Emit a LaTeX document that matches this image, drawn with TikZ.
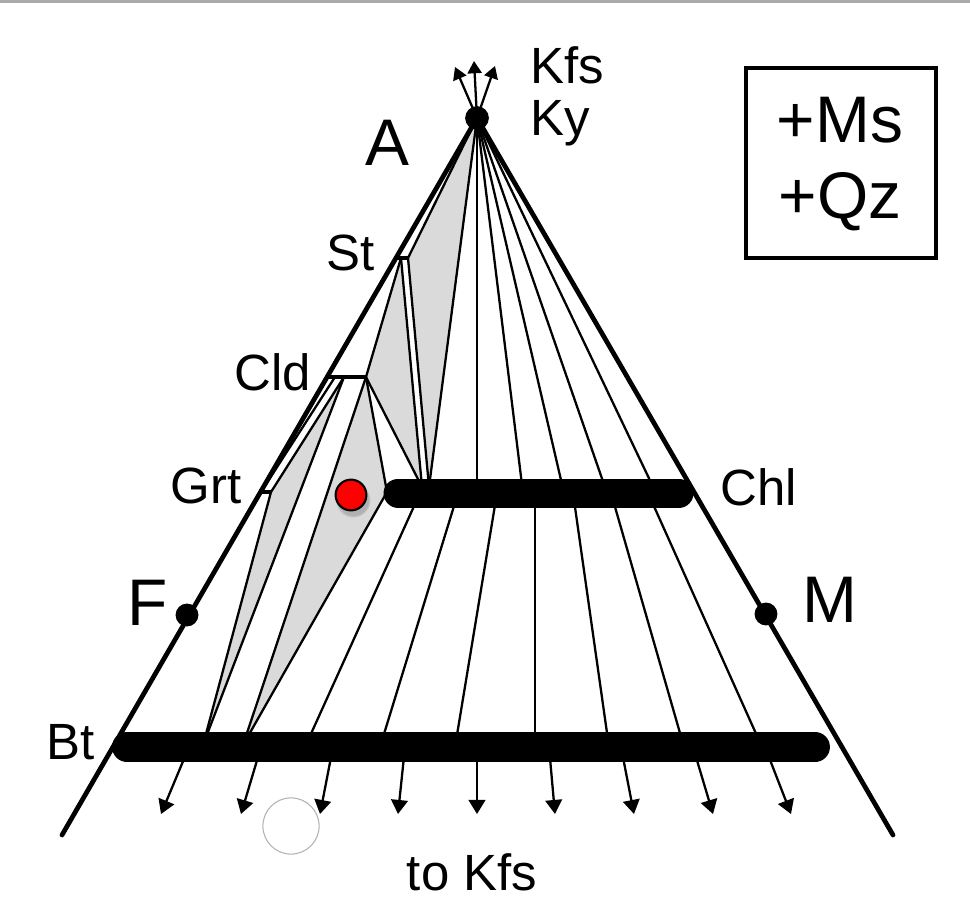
\documentclass[tikz,border=0pt]{standalone}
\usepackage{fontspec}
\setmainfont{Liberation Sans}
\usetikzlibrary{arrows.meta,shadows}
\definecolor{fieldgray}{RGB}{218,218,218}
\definecolor{ringgray}{RGB}{178,178,178}
\definecolor{stripgray}{RGB}{170,170,170}

\begin{document}
\begin{tikzpicture}[x=0.02cm, y=-0.02cm,
    edge/.style={line width=2.7pt, line cap=round},
    tie/.style={line width=1.3pt},
    field/.style={fill=fieldgray},
    ssbar/.style={line width=16.5pt, line cap=round},
    ticked/.style={line width=1.9pt},
    tip/.style={-{Triangle[length=8pt, width=9.5pt]}, line width=1.3pt},
    label/.style={inner sep=0pt, anchor=base, font=\fontsize{29}{34}\selectfont},
    biglabel/.style={inner sep=0pt, anchor=base, font=\fontsize{37.5}{44}\selectfont},
    dot/.style={circle, fill=black, inner sep=0pt, minimum size=13.5pt}]

    \useasboundingbox (0,0) rectangle (970,916);
    \fill[stripgray] (0,0) rectangle (970,2.7);

    % Triangle corners
    \coordinate (apex) at (477,118);
    \coordinate (lowleft) at (62,835);
    \coordinate (lowright) at (893,835);

    % Phase compositions
    \coordinate (st1) at (401,258);
    \coordinate (st2) at (408,258);
    \coordinate (cldL) at (335,377);
    \coordinate (cldM) at (344,377);
    \coordinate (cldR) at (366,377);
    \coordinate (grtL) at (261,492);
    \coordinate (grtR) at (271,492);
    \coordinate (chlL) at (387,492);
    \coordinate (chlA) at (429,487);
    \coordinate (chlB) at (422,487);
    \coordinate (bt1) at (203,745);
    \coordinate (bt2) at (243,745);

    % Three-phase fields
    \fill[field] (apex) -- (st2) -- (chlA) -- cycle;
    \fill[field] (st1) -- (cldR) -- (chlB) -- cycle;
    \fill[field] (cldR) -- (chlL) -- (bt2) -- cycle;
    \fill[field] (grtR) -- (cldM) -- (bt1) -- cycle;

    % Tie lines round the fields
    \draw[tie] (apex) -- (st2);
    \draw[tie] (apex) -- (chlA);
    \draw[tie] (st2) -- (chlA);
    \draw[tie] (st1) -- (chlB);
    \draw[tie] (st1) -- (cldR);
    \draw[tie] (cldR) -- (chlB);
    \draw[tie] (cldR) -- (chlL);
    \draw[tie] (chlL) -- (bt2);
    \draw[tie] (cldR) -- (bt2);
    \draw[tie] (cldM) -- (bt1);
    \draw[tie] (grtR) -- (bt1);
    \draw[tie] (grtR) -- (cldM);
    \draw[tie] (grtL) -- (cldL);

    % Ky - Chl tie lines
    \draw[tie] (apex) -- (477,493);
    \draw[tie] (apex) -- (523,493);
    \draw[tie] (apex) -- (564,493);
    \draw[tie] (apex) -- (607,493);
    \draw[tie] (apex) -- (656,493);

    % Chl - Bt tie lines
    \draw[tie] (420,493) -- (305,747);
    \draw[tie] (458,493) -- (380,747);
    \draw[tie] (497,493) -- (455,747);
    \draw[tie] (535,493) -- (535,747);
    \draw[tie] (573,493) -- (609,747);
    \draw[tie] (611,493) -- (684,747);
    \draw[tie] (648,493) -- (762,747);

    % Solid solution ranges on the A-F join
    \draw[ticked] (396,258) -- (st2);
    \draw[ticked] (327,377) -- (cldR);
    \draw[ticked] (259,492) -- (grtR);

    % Triangle edges
    \draw[edge] (lowleft) -- (apex) -- (lowright);

    % Chl and Bt
    \draw[ssbar] (398,493) -- (679,493);
    \draw[ssbar, line width=17pt] (127,747) -- (815,747);

    % Projection arrows
    \draw[tip] (189,747) -- (161,814);
    \draw[tip] (261,747) -- (241,814);
    \draw[tip] (333,747) -- (320,814);
    \draw[tip] (405,747) -- (398,814);
    \draw[tip] (477,747) -- (477,814);
    \draw[tip] (549,747) -- (555,814);
    \draw[tip] (621,747) -- (634,814);
    \draw[tip] (693,747) -- (713,814);
    \draw[tip] (765,747) -- (791,814);
    \draw[tip, -{Triangle[length=7pt, width=8pt]}] (apex) -- (455,67);
    \draw[tip, -{Triangle[length=7pt, width=8pt]}] (apex) -- (474,61);
    \draw[tip, -{Triangle[length=7pt, width=8pt]}] (apex) -- (495,66);

    % End members
    \node[dot] (A) at (apex) {};
    \node[dot, minimum size=13pt] (F) at (187,615) {};
    \node[dot, minimum size=13pt] (M) at (766,614) {};

    % Sample
    \node[circle, fill=red, draw=black, line width=1.2pt, minimum size=17.5pt, inner sep=0pt,
          circular drop shadow={shadow xshift=1pt, shadow yshift=-2.5pt, shadow scale=1.15, opacity=.45}] (sample) at (351,495) {};
    \node[circle, draw=ringgray, line width=0.6pt, minimum size=32pt, inner sep=0pt] (ring) at (291,826) {};

    % Labels
    \node[label, anchor=base west] (kfs) at (530,83) {Kfs};
    \node[label, anchor=base west] (ky) at (530,135) {Ky};
    \node[biglabel] (alab) at (387,165) {A};
    \node[biglabel] (flab) at (148,625) {F};
    \node[biglabel] (mlab) at (830,622) {M};
    \node[label] (stlab) at (351,270) {St};
    \node[label] (cldlab) at (273,390) {Cld};
    \node[label] (grtlab) at (206,503) {Grt};
    \node[label] (chllab) at (759,505) {Chl};
    \node[label] (btlab) at (71,759) {Bt};
    \node[label] (tokfs) at (472,890) {to Kfs};

    % Excess phases
    \node[draw, line width=2.5pt, minimum width=108pt, minimum height=108pt, inner sep=0pt] (excess) at (841,163) {};
    \node[biglabel] (ms) at (840,142) {+Ms};
    \node[biglabel] (qz) at (840,218) {+Qz};
\end{tikzpicture}
\end{document}
